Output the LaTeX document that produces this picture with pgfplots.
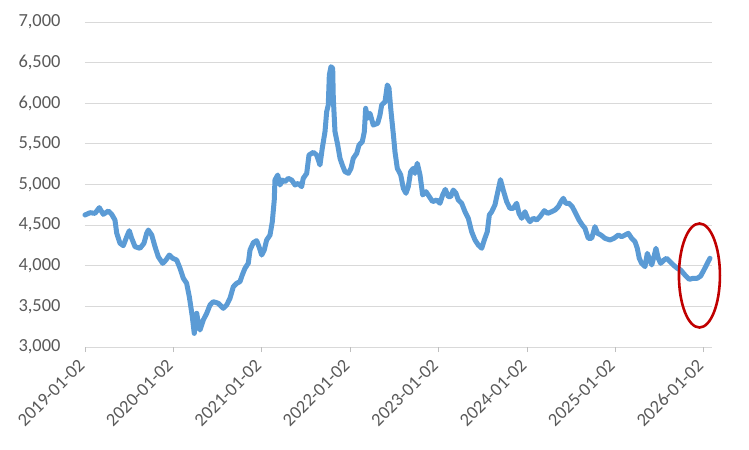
\documentclass[border=0pt]{standalone}
\usepackage{pgfplots}
\pgfplotsset{compat=1.18}
\usepackage{fontspec}
\setmainfont{Carlito}
\definecolor{linecol}{HTML}{5B9BD5}
\definecolor{gridcol}{HTML}{D9D9D9}
\definecolor{txtcol}{HTML}{595959}
\definecolor{axcol}{HTML}{BFBFBF}
\definecolor{redcol}{HTML}{C00000}
\newcommand{\tlf}{\fontsize{18.5}{21}\selectfont}
\begin{document}
\begin{tikzpicture}[x=1bp,y=1bp]
\begin{axis}[
  at={(0,0)}, anchor=south west,
  scale only axis, width=627bp, height=325bp,
  xmin=2019, xmax=2026.093, ymin=3000, ymax=7000,
  ytick={3000,3500,4000,4500,5000,5500,6000,6500,7000},
  yticklabels={{3,000},{3,500},{4,000},{4,500},{5,000},{5,500},{6,000},{6,500},{7,000}},
  xtick={2019,2020,2021,2022,2023,2024,2025,2026},
  xticklabels={2019-01-02,2020-01-02,2021-01-02,2022-01-02,2023-01-02,2024-01-02,2025-01-02,2026-01-02},
  ymajorgrids, grid style={gridcol, line width=0.8bp},
  axis line style={draw=none},
  ytick style={draw=none},
  xtick style={axcol, line width=0.8bp},
  tick align=outside, major tick length=5bp,
  xtick pos=bottom,
  yticklabel style={font=\tlf, text=txtcol, anchor=east, xshift=-16bp},
  xticklabel style={font=\tlf, text=txtcol, xshift=-2bp, yshift=-9bp, rotate=45, anchor=east, inner sep=2bp},
  clip=false,
]
\addplot[linecol, line width=5bp, line join=round, line cap=round] coordinates {
(2019.000,4625) (2019.057,4653) (2019.113,4645) (2019.162,4715) (2019.207,4633)
(2019.264,4674) (2019.302,4633) (2019.339,4563) (2019.359,4400) (2019.396,4277)
(2019.433,4247) (2019.472,4357) (2019.501,4431) (2019.528,4338) (2019.566,4235)
(2019.622,4215) (2019.667,4277) (2019.698,4400) (2019.716,4440) (2019.755,4378)
(2019.792,4235) (2019.829,4111) (2019.879,4030) (2019.916,4071) (2019.954,4132)
(2019.992,4092) (2020.037,4071) (2020.075,3969) (2020.112,3846) (2020.150,3784)
(2020.180,3620) (2020.214,3373) (2020.236,3168) (2020.264,3415) (2020.282,3292)
(2020.301,3209) (2020.338,3332) (2020.377,3415) (2020.414,3517) (2020.451,3558)
(2020.508,3538) (2020.564,3476) (2020.603,3517) (2020.640,3599) (2020.678,3742)
(2020.716,3784) (2020.753,3804) (2020.779,3886) (2020.810,3969) (2020.847,4030)
(2020.867,4194) (2020.904,4284) (2020.942,4309) (2020.968,4235) (2020.999,4132)
(2021.028,4194) (2021.055,4317) (2021.093,4378) (2021.119,4542) (2021.141,4809)
(2021.149,5055) (2021.180,5117) (2021.206,4994) (2021.232,5055) (2021.262,5035)
(2021.300,5076) (2021.338,5055) (2021.376,4994) (2021.413,5014) (2021.451,4973)
(2021.469,5076) (2021.508,5137) (2021.534,5363) (2021.583,5396) (2021.621,5363)
(2021.658,5240) (2021.684,5445) (2021.715,5650) (2021.734,5896) (2021.752,5978)
(2021.764,6348) (2021.783,6450) (2021.802,6430) (2021.809,6061) (2021.828,5650)
(2021.859,5486) (2021.885,5322) (2021.911,5240) (2021.941,5158) (2021.979,5137)
(2022.009,5199) (2022.035,5322) (2022.074,5384) (2022.100,5486) (2022.137,5527)
(2022.160,5650) (2022.175,5937) (2022.198,5815) (2022.224,5876) (2022.261,5732)
(2022.311,5753) (2022.337,5855) (2022.356,5978) (2022.394,6019) (2022.420,6225)
(2022.439,6184) (2022.462,5896) (2022.488,5620) (2022.507,5400) (2022.533,5199)
(2022.572,5117) (2022.601,4953) (2022.631,4892) (2022.657,4973) (2022.684,5158)
(2022.713,5199) (2022.733,5137) (2022.759,5261) (2022.790,5117) (2022.820,4871)
(2022.857,4912) (2022.895,4850) (2022.933,4789) (2022.978,4809) (2023.016,4769)
(2023.046,4871) (2023.076,4940) (2023.110,4850) (2023.137,4850) (2023.166,4932)
(2023.197,4892) (2023.223,4809) (2023.261,4769) (2023.299,4665) (2023.336,4584)
(2023.374,4419) (2023.412,4317) (2023.449,4255) (2023.488,4215) (2023.517,4317)
(2023.551,4419) (2023.574,4625) (2023.601,4665) (2023.638,4750) (2023.666,4892)
(2023.700,5060) (2023.731,4932) (2023.770,4789) (2023.807,4707) (2023.845,4707)
(2023.883,4769) (2023.910,4645) (2023.940,4584) (2023.977,4665) (2024.007,4584)
(2024.034,4542) (2024.071,4584) (2024.110,4563) (2024.147,4604) (2024.196,4678)
(2024.234,4645) (2024.279,4665) (2024.317,4686) (2024.354,4727) (2024.385,4789)
(2024.411,4830) (2024.438,4769) (2024.475,4769) (2024.512,4727) (2024.551,4645)
(2024.588,4563) (2024.626,4501) (2024.656,4461) (2024.693,4338) (2024.732,4338)
(2024.769,4481) (2024.799,4399) (2024.837,4378) (2024.882,4338) (2024.939,4317)
(2024.984,4338) (2025.033,4378) (2025.071,4357) (2025.109,4378) (2025.146,4399)
(2025.184,4338) (2025.222,4296) (2025.248,4215) (2025.270,4092) (2025.297,4030)
(2025.335,3989) (2025.361,4153) (2025.383,4092) (2025.411,4010) (2025.437,4112)
(2025.459,4215) (2025.485,4092) (2025.512,4030) (2025.550,4071) (2025.580,4092)
(2025.618,4050) (2025.655,4010) (2025.700,3969) (2025.738,3948) (2025.787,3886)
(2025.836,3833) (2025.881,3846) (2025.926,3846) (2025.965,3874) (2026.002,3948)
(2026.040,4030) (2026.070,4092)
};
\draw[redcol, line width=2.6bp] (axis cs:2025.951,3880) ellipse [x radius=20.5bp, y radius=52bp];
\end{axis}
\pgfresetboundingbox
\path (-85bp,-103bp) rectangle (664bp,347bp);
\end{tikzpicture}
\end{document}
